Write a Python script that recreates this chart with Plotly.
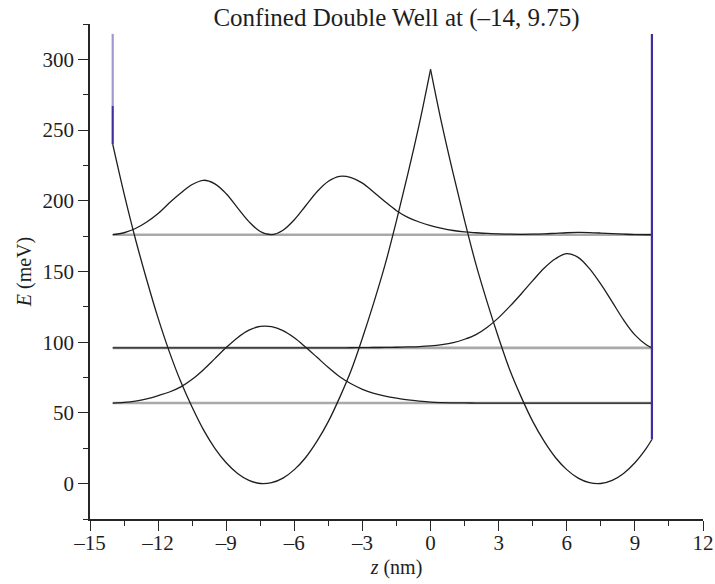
import plotly.graph_objects as go

# Confined double well: hard walls at z = -14 nm and z = 9.75 nm
Z_LEFT = -14.0
Z_RIGHT = 9.75
WALL_TOP = 318.0
LEFT_WALL_SPLIT = 267.0

# Potential energy V(z) in meV, left branch (z <= 0) and right branch (z >= 0)
pot_z_left = [-14, -13.5, -13, -12.5, -12, -11.5, -11, -10.5, -10, -9.5, -9, -8.5,
              -8, -7.5, -7, -6.5, -6, -5.5, -5, -4.5, -4, -3.5, -3, -2.5,
              -2, -1.5, -1, -0.5, 0]
pot_v_left = [240, 205, 173, 144, 117, 93, 72, 54, 38, 25, 14.8, 7.2,
              2.3, 0.1, 0.7, 3.9, 9.9, 18.5, 30, 44, 61, 80, 103, 128,
              155, 186, 219, 254, 293]
pot_z_right = [0, 0.5, 1, 1.5, 2, 2.5, 3, 3.5, 4, 4.5, 5, 5.5, 6, 6.5, 7,
               7.5, 8, 8.5, 9, 9.5, 9.75]
pot_v_right = [293, 254, 219, 186, 155, 128, 103, 80, 61, 44, 30, 18.5, 9.9,
               3.9, 0.7, 0.1, 2.3, 7.2, 14.8, 25, 31.2]

# Bound-state energies (meV)
levels = [57, 96, 176]

# Probability densities, offset by their level (meV scale), sampled every 0.5 nm
psi_z = [-14, -13.5, -13, -12.5, -12, -11.5, -11, -10.5, -10, -9.5, -9, -8.5,
         -8, -7.5, -7, -6.5, -6, -5.5, -5, -4.5, -4, -3.5, -3, -2.5, -2, -1.5,
         -1, -0.5, 0, 0.5, 1, 1.5, 2, 2.5, 3, 3.5, 4, 4.5, 5, 5.5, 6, 6.5, 7,
         7.5, 8, 8.5, 9, 9.5, 9.75]
psi1_e = [57, 57.4, 58.3, 59.9, 62.2, 64.8, 68.4, 73.8, 80.6, 88.4, 96.2,
          103.2, 108.5, 111.2, 111, 108.2, 103.1, 96.4, 89.3, 82.1, 75.6, 70.6,
          66.7, 63.9, 61.9, 60.4, 59.2, 58.3, 57.6, 57.3, 57.15, 57.05, 57, 57,
          57, 57, 57, 57, 57, 57, 57, 57, 57, 57, 57, 57, 57, 57, 57]
psi2_e = [96, 96, 96, 96, 96, 96, 96, 96, 96, 96, 96, 96, 96, 96, 96, 96, 96,
          96, 96, 96, 96, 96.1, 96.2, 96.25, 96.3, 96.45, 96.65, 96.9, 97.4,
          98.3, 99.7, 102.1, 105.4, 110.6, 117.4, 125.5, 134.3, 143.5, 152.3,
          159, 162.7, 160, 152, 141, 128.5, 115.8, 105.2, 98.2, 96]
psi3_e = [176, 177.4, 180.4, 185, 191, 198.6, 205.5, 211.5, 214.5, 212, 205,
          195, 185.3, 178.3, 176.05, 179.2, 186.6, 196.5, 206.4, 213.8, 217.3,
          216.4, 212.5, 206, 199.3, 193, 188.3, 185, 182.5, 180.5, 179, 178,
          177.4, 176.9, 176.6, 176.4, 176.3, 176.4, 176.6, 177, 177.4, 177.6,
          177.5, 177.2, 176.8, 176.4, 176.1, 176, 176]

# Axis ticks
x_ticks = [-15, -12, -9, -6, -3, 0, 3, 6, 9, 12]
x_tick_text = ["–15", "–12", "–9", "–6", "–3", "0", "3", "6", "9", "12"]
x_minor = [-13.5, -10.5, -7.5, -4.5, -1.5, 1.5, 4.5, 7.5, 10.5]
y_ticks = [0, 50, 100, 150, 200, 250, 300]
y_minor = [-25, 25, 75, 125, 175, 225, 275, 325]

SERIF = "Liberation Serif, Times New Roman, serif"
INK = "#1e1e1e"
LEVEL_GREY = "#a9a9a9"
WALL_DARK = "#3f2f9c"
WALL_LIGHT = "#9f99cf"

fig = go.Figure()

# Energy levels spanning the well
for e in levels:
    fig.add_trace(go.Scatter(x=[Z_LEFT, Z_RIGHT], y=[e, e], mode="lines",
                             line=dict(color=LEVEL_GREY, width=2.6),
                             hoverinfo="skip"))

# Probability densities
for es in [psi1_e, psi2_e, psi3_e]:
    fig.add_trace(go.Scatter(x=psi_z, y=es, mode="lines",
                             line=dict(color=INK, width=1.3, shape="spline",
                                       smoothing=1)))

# Double-well potential
for zs, vs in [(pot_z_left, pot_v_left), (pot_z_right, pot_v_right)]:
    fig.add_trace(go.Scatter(x=zs, y=vs, mode="lines",
                             line=dict(color=INK, width=1.3, shape="spline",
                                       smoothing=1)))

# Hard walls
fig.add_trace(go.Scatter(x=[Z_LEFT, Z_LEFT], y=[LEFT_WALL_SPLIT, WALL_TOP],
                         mode="lines", line=dict(color=WALL_LIGHT, width=2.2)))
fig.add_trace(go.Scatter(x=[Z_LEFT, Z_LEFT], y=[pot_v_left[0], LEFT_WALL_SPLIT],
                         mode="lines", line=dict(color=WALL_DARK, width=2.2)))
fig.add_trace(go.Scatter(x=[Z_RIGHT, Z_RIGHT], y=[pot_v_right[-1], WALL_TOP],
                         mode="lines", line=dict(color=WALL_DARK, width=2.2)))

axis_common = dict(
    showgrid=False, zeroline=False, showline=True, linecolor="#262626",
    linewidth=1.6, ticks="outside", ticklen=10, tickwidth=1.4,
    tickcolor="#262626", tickfont=dict(family=SERIF, size=21, color=INK),
    mirror=False, automargin=False,
)

fig.update_layout(
    width=715, height=584,
    margin=dict(l=90, r=12, t=24, b=65),
    plot_bgcolor="white", paper_bgcolor="white",
    showlegend=False,
    title=dict(text="Confined Double Well at (–14, 9.75)",
               font=dict(family=SERIF, size=25, color=INK),
               x=0.5, xref="paper", xanchor="center",
               y=1 - 17 / 584, yref="container", yanchor="middle"),
    xaxis=dict(range=[-15, 12], tickmode="array", tickvals=x_ticks,
               ticktext=x_tick_text, ticklabelstandoff=-6,
               minor=dict(tickmode="array", tickvals=x_minor, ticks="outside",
                          ticklen=5, tickwidth=1.4, tickcolor="#262626"),
               title=dict(text="<i>z</i> (nm)",
                          font=dict(family=SERIF, size=20, color=INK),
                          standoff=6),
               **axis_common),
    yaxis=dict(range=[-25, 325], tickmode="array", tickvals=y_ticks,
               minor=dict(tickmode="array", tickvals=y_minor, ticks="outside",
                          ticklen=5, tickwidth=1.4, tickcolor="#262626"),
               title=dict(text="<i>E</i> (meV)",
                          font=dict(family=SERIF, size=20, color=INK),
                          standoff=6),
               **axis_common),
)

fig.write_html("out.html")
